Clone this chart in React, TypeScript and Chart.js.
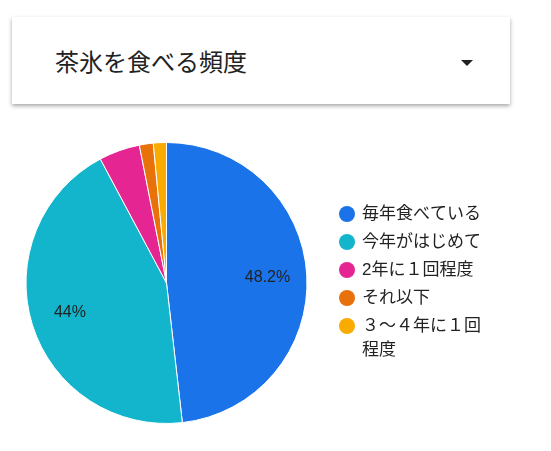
import { useEffect, useRef } from "react";
import { Chart, registerables } from "chart.js";

Chart.register(...registerables);

const title = "茶氷を食べる頻度";
const labels = ["毎年食べている", "今年がはじめて", "2年に１回程度", "それ以下", "３～４年に１回程度"];
// legend text split where the original wraps
const legendLines = [["毎年食べている"], ["今年がはじめて"], ["2年に１回程度"], ["それ以下"], ["３～４年に１回", "程度"]];
const values = [48.2, 44, 4.7, 1.6, 1.5];
const colors = ["#1a73e8", "#12b5cb", "#e52592", "#e8710a", "#f9ab00"];

const FONT = "Arial, 'Liberation Sans', 'Noto Sans CJK JP', sans-serif";

// percentage labels inside the bigger slices
const sliceLabels = {
  id: "sliceLabels",
  afterDatasetsDraw(chart: Chart) {
    const ctx = chart.ctx;
    const meta = chart.getDatasetMeta(0);
    const data = chart.data.datasets[0].data as number[];
    const total = data.reduce((a, b) => a + b, 0);
    ctx.save();
    ctx.font = `16px ${FONT}`;
    ctx.fillStyle = "#222";
    ctx.textAlign = "center";
    ctx.textBaseline = "middle";
    meta.data.forEach((arc: any, i) => {
      const pct = (data[i] / total) * 100;
      if (pct < 10) return;
      const mid = (arc.startAngle + arc.endAngle) / 2;
      const r = arc.outerRadius * 0.72;
      ctx.fillText(`${Number(pct.toFixed(1))}%`, arc.x + Math.cos(mid) * r, arc.y + Math.sin(mid) * r);
    });
    ctx.restore();
  },
};

// legend on the right, drawn from chart data
const sideLegend = {
  id: "sideLegend",
  afterDraw(chart: Chart) {
    const ctx = chart.ctx;
    const bg = chart.data.datasets[0].backgroundColor as string[];
    ctx.save();
    ctx.font = `17px ${FONT}`;
    ctx.textBaseline = "middle";
    let y = 84;
    legendLines.forEach((lines, i) => {
      ctx.fillStyle = bg[i];
      ctx.beginPath();
      ctx.arc(347, y, 8, 0, Math.PI * 2);
      ctx.fill();
      ctx.fillStyle = "#222";
      lines.forEach((t, j) => ctx.fillText(t, 362, y + j * 24));
      y += 28;
    });
    ctx.restore();
  },
};

export default function App() {
  const chartRef = useRef<HTMLCanvasElement | null>(null);
  const chartInstance = useRef<Chart | null>(null);

  useEffect(() => {
    if (!chartRef.current) return;
    if (chartInstance.current) chartInstance.current.destroy();

    chartInstance.current = new Chart(chartRef.current, {
      type: "pie",
      data: {
        labels,
        datasets: [
          {
            data: values,
            backgroundColor: colors,
            borderColor: "#fff",
            borderWidth: 1,
          },
        ],
      },
      options: {
        responsive: false,
        animation: false,
        layout: { padding: { left: 25, top: 12, right: 243, bottom: 16 } },
        plugins: {
          legend: { display: false },
          tooltip: { enabled: false },
        },
      },
      plugins: [sliceLabels, sideLegend],
    });

    return () => {
      if (chartInstance.current) {
        chartInstance.current.destroy();
        chartInstance.current = null;
      }
    };
  }, []);

  return (
    <div style={{ position: "relative", width: 551, height: 451, margin: -8, background: "#fff", fontFamily: FONT }}>
      <div
        style={{
          position: "absolute",
          left: 12,
          top: 17,
          width: 498,
          height: 87,
          background: "#fff",
          boxShadow: "0 2px 4px rgba(0,0,0,0.35)",
        }}
      >
        <div style={{ position: "absolute", left: 43, top: 30, fontSize: 24, color: "#222", lineHeight: "32px" }}>
          {title}
        </div>
        <div
          style={{
            position: "absolute",
            left: 449,
            top: 43,
            width: 0,
            height: 0,
            borderLeft: "6px solid transparent",
            borderRight: "6px solid transparent",
            borderTop: "6px solid #222",
          }}
        />
      </div>
      <canvas ref={chartRef} width={551} height={310} style={{ position: "absolute", left: 0, top: 130 }} />
    </div>
  );
}
